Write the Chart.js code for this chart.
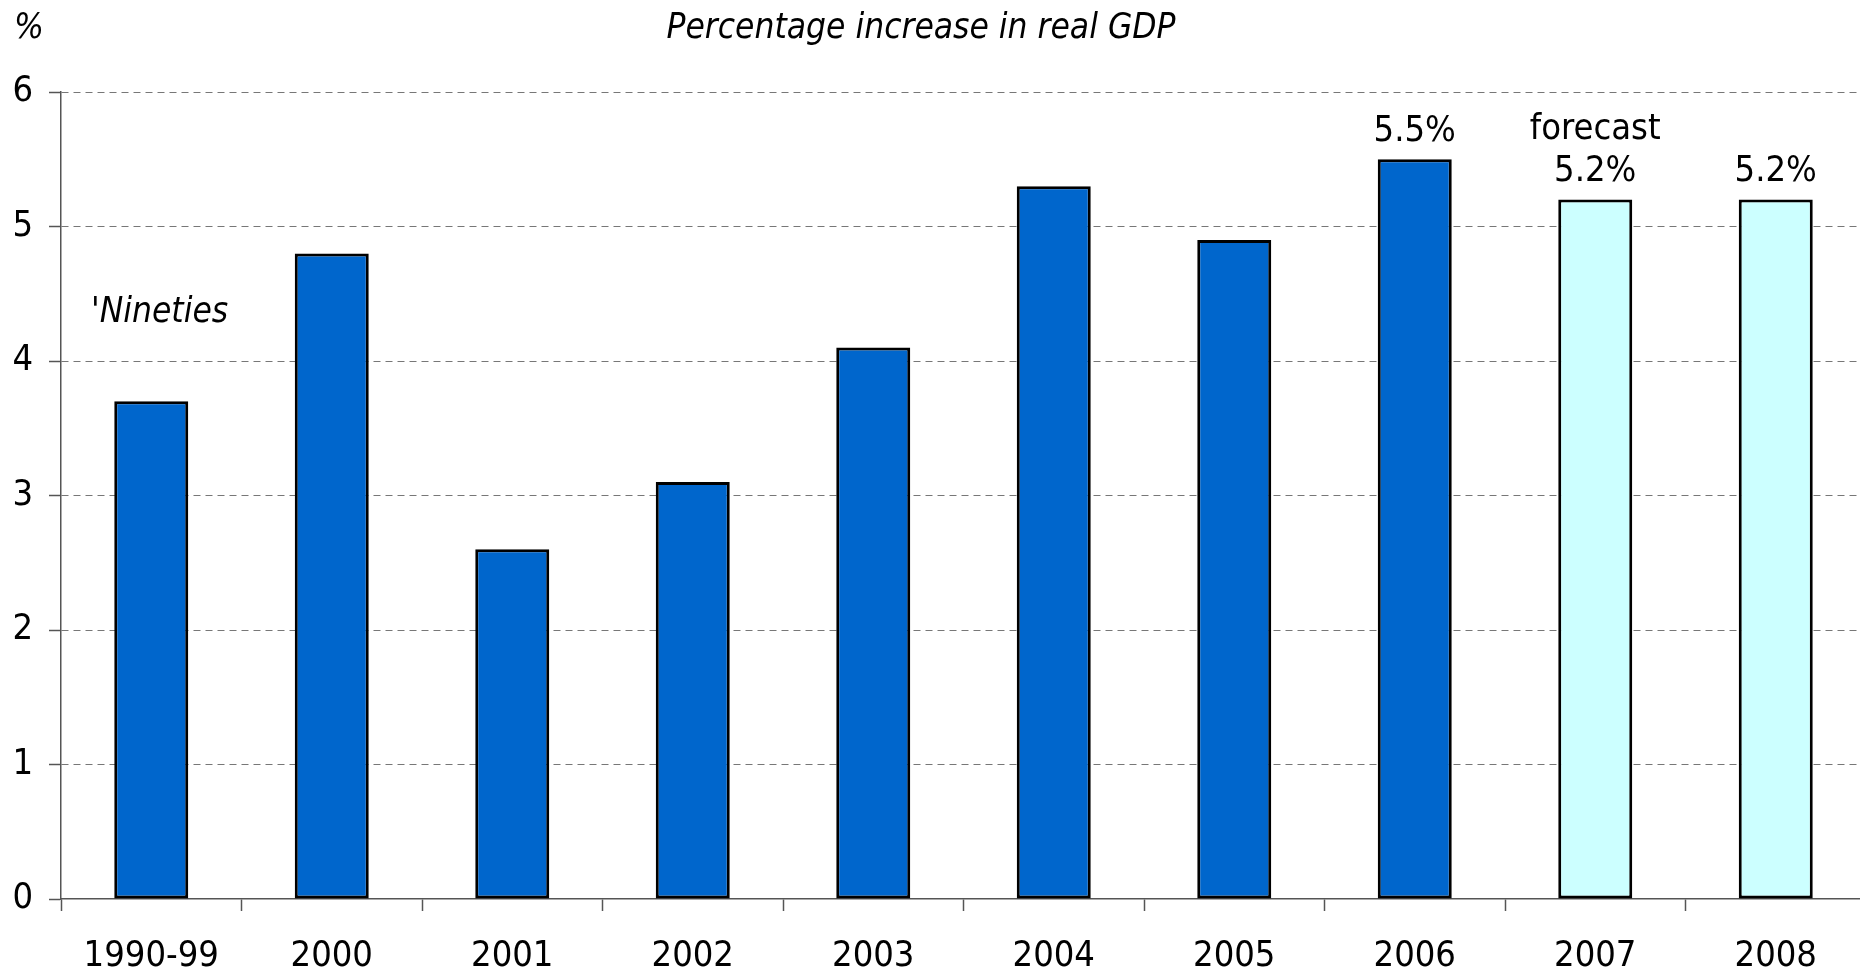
<!DOCTYPE html>
<html>
<head>
<meta charset="utf-8">
<script src="https://cdn.jsdelivr.net/npm/chart.js@4/dist/chart.umd.min.js"></script>
<style>
  html, body { margin: 0; padding: 0; background: #fff; overflow: hidden; }
  #wrap { width: 1866px; height: 972px; }
</style>
</head>
<body>
<div id="wrap"><canvas id="chartGdp"></canvas></div>
<script>
// datos
const categorias = ['1990-99', '2000', '2001', '2002', '2003', '2004', '2005', '2006', '2007', '2008'];
const crecimiento = [3.7, 4.8, 2.6, 3.1, 4.1, 5.3, 4.9, 5.5, 5.2, 5.2];
const esPronostico = [false, false, false, false, false, false, false, false, true, true];
const ticksY = [0, 1, 2, 3, 4, 5, 6];
const etiquetasValor = [null, null, null, null, null, null, null, '5.5%', '5.2%', '5.2%'];

const FUENTE = "'DejaVu Sans Condensed', 'DejaVu Sans', sans-serif";

// textos sueltos (titulo, %, 'Nineties, forecast)
const textosPlugin = {
    id: 'textos',
    afterDraw(chart) {
        const ctx = chart.ctx;
        const x = chart.scales.x;
        const y = chart.scales.y;
        ctx.save();
        ctx.fillStyle = '#000';
        ctx.textBaseline = 'middle';

        ctx.font = 'italic 35px ' + FUENTE;
        ctx.textAlign = 'left';
        ctx.fillText('%', 14, 29);
        ctx.textAlign = 'center';
        ctx.fillText('Percentage increase in real GDP', 921, 29);
        ctx.textAlign = 'left';
        ctx.fillText("'Nineties", 91, 313);

        ctx.font = '36px ' + FUENTE;
        ctx.textAlign = 'center';
        etiquetasValor.forEach((txt, i) => {
            if (!txt) return;
            ctx.fillText(txt, x.getPixelForValue(i), y.getPixelForValue(crecimiento[i]) - 28);
        });
        ctx.fillText('forecast', x.getPixelForValue(8), y.getPixelForValue(crecimiento[8]) - 70);
        ctx.restore();
    }
};

new Chart(document.getElementById('chartGdp'), {
    type: 'bar',
    data: {
        labels: categorias,
        datasets: [{
            data: crecimiento,
            backgroundColor: esPronostico.map(p => p ? '#CCFFFF' : '#0066CC'),
            borderColor: '#000',
            borderWidth: 3,
            borderSkipped: false,
            barPercentage: 0.41,
            categoryPercentage: 1
        }]
    },
    options: {
        responsive: true,
        maintainAspectRatio: false,
        animation: false,
        events: [],
        layout: { padding: { top: 92, right: 0, left: 0, bottom: 0 } },
        plugins: {
            legend: { display: false },
            tooltip: { enabled: false }
        },
        scales: {
            x: {
                afterFit: s => { s.height = 73; },
                grid: {
                    offset: true,
                    drawOnChartArea: false,
                    tickLength: 12,
                    tickColor: '#555',
                    tickWidth: 1.5
                },
                border: { color: '#555', width: 1.5 },
                ticks: {
                    color: '#000',
                    padding: 24,
                    font: { family: FUENTE, size: 36 }
                }
            },
            y: {
                min: 0,
                max: 6,
                afterFit: s => { s.width = 61; },
                afterBuildTicks: s => { s.ticks = ticksY.map(v => ({ value: v })); },
                grid: {
                    color: c => c.index === 0 ? 'rgba(0,0,0,0)' : '#777',
                    lineWidth: 1,
                    tickLength: 12,
                    tickColor: '#555',
                    tickWidth: 1.5
                },
                border: { color: '#555', width: 1.5, dash: [7, 5] },
                ticks: {
                    color: '#000',
                    padding: 16,
                    font: { family: FUENTE, size: 36 }
                }
            }
        }
    },
    plugins: [textosPlugin]
});
</script>
</body>
</html>
